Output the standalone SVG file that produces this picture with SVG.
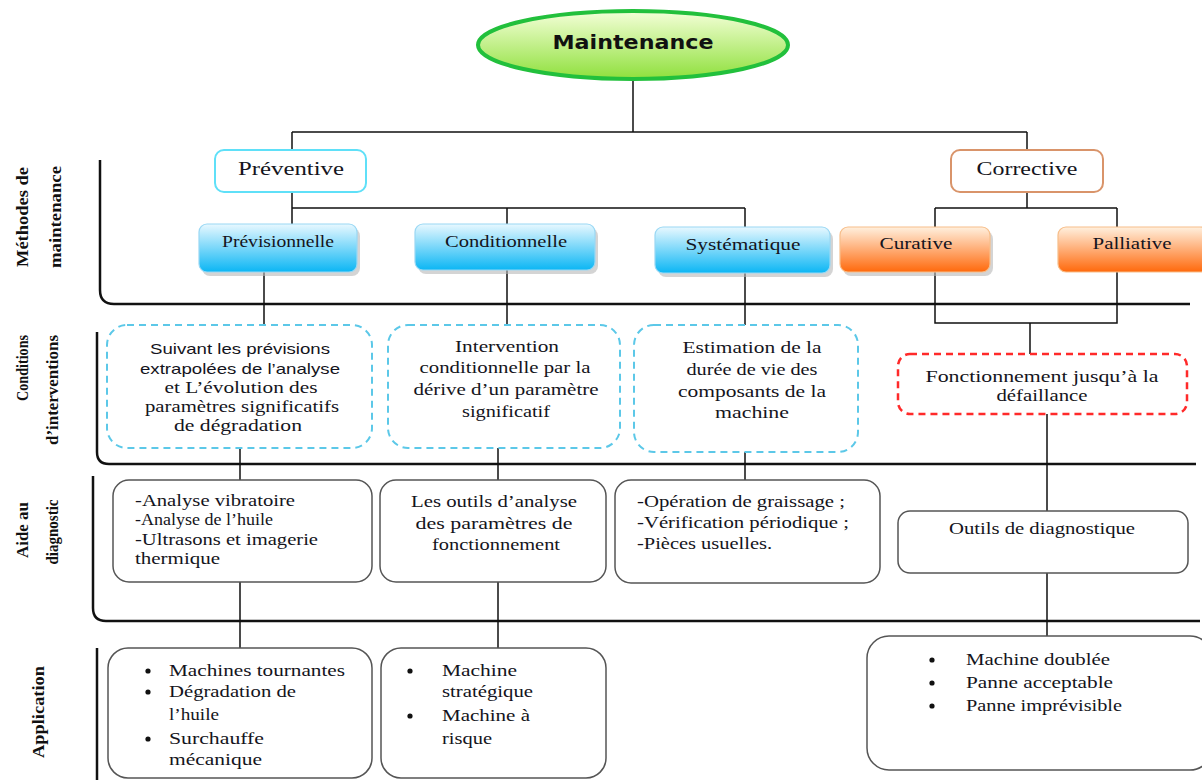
<svg xmlns="http://www.w3.org/2000/svg" width="1202" height="780" viewBox="0 0 1202 780">
<defs>
<linearGradient id="gEll" x1="0" y1="0" x2="0" y2="1"><stop offset="0" stop-color="#f4ffd8"/><stop offset="1" stop-color="#8fe03c"/></linearGradient>
<linearGradient id="gBlue" x1="0" y1="0" x2="0" y2="1"><stop offset="0" stop-color="#e8f8ff"/><stop offset="1" stop-color="#0bb6f4"/></linearGradient>
<linearGradient id="gOr" x1="0" y1="0" x2="0" y2="1"><stop offset="0" stop-color="#fff0de"/><stop offset="1" stop-color="#ff690c"/></linearGradient>
</defs>
<style>
.t{font-family:"Liberation Serif",serif;font-size:16px;fill:#141420}
.big{font-size:18px}
.c{text-anchor:middle}
.lbl{font-family:"Liberation Serif",serif;font-weight:bold;font-size:17px;fill:#111;text-anchor:middle}
.conn{fill:none;stroke:#111;stroke-width:1.5}
.br{fill:none;stroke:#111;stroke-width:2.5}
.dc{fill:#fff;stroke:#5cc8e8;stroke-width:2;stroke-dasharray:7 5}
.dr{fill:#fff;stroke:#ff2a2a;stroke-width:2.5;stroke-dasharray:7 5}
.sb{fill:#fff;stroke:#555;stroke-width:1.5}
.bl{fill:url(#gBlue);stroke:#9ad8f4;stroke-width:1.2}
.or{fill:url(#gOr);stroke:#f7be8a;stroke-width:1.2}
.sh{fill:#b8b8b8;opacity:0.6}
.dot{fill:#111}
</style>
<rect width="1202" height="780" fill="#fff"/>

<g id="brackets">
<path class="br" d="M100 160 V290 Q100 304 114 304 H1190"/>
<path class="br" d="M97 332 V452 Q97 464 109 464 H1196"/>
<path class="br" d="M93 476 V608 Q93 621 106 621 H1200"/>
<path class="br" d="M97 648 V780"/>
</g>

<g id="labels">
<text class="lbl" transform="translate(28,217) rotate(-90)" textLength="100" lengthAdjust="spacingAndGlyphs">Méthodes de</text>
<text class="lbl" transform="translate(61,217) rotate(-90)" textLength="102" lengthAdjust="spacingAndGlyphs">maintenance</text>
<text class="lbl" transform="translate(28,368) rotate(-90)" textLength="66" lengthAdjust="spacingAndGlyphs">Conditions</text>
<text class="lbl" transform="translate(58,390) rotate(-90)" textLength="110" lengthAdjust="spacingAndGlyphs">d’interventions</text>
<text class="lbl" transform="translate(28,530) rotate(-90)" textLength="56" lengthAdjust="spacingAndGlyphs">Aide au</text>
<text class="lbl" transform="translate(58,532) rotate(-90)" textLength="65" lengthAdjust="spacingAndGlyphs">diagnostic</text>
<text class="lbl" transform="translate(44,712) rotate(-90)" textLength="92" lengthAdjust="spacingAndGlyphs">Application</text>
</g>

<g id="connectors">
<path class="conn" d="M633 80 V132 M292 132 H1027 M292 132 V150 M1027 132 V150"/>
<path class="conn" d="M292 192 V224 M292 208 H745 M507 208 V224 M745 208 V227"/>
<path class="conn" d="M1027 192 V208 M935 208 H1117 M935 208 V227 M1117 208 V227"/>
<path class="conn" d="M264 272 V325 M507 270 V325 M745 273 V325"/>
<path class="conn" d="M935 272 V323 H1117 V272 M1030 323 V354"/>
<path class="conn" d="M240 448 V480 M498 448 V480 M745 452 V480 M1047 414 V511"/>
<path class="conn" d="M240 582 V648 M498 582 V648 M1047 573 V636"/>
</g>

<g id="maintenance">
<ellipse cx="633" cy="45" rx="155" ry="34" fill="url(#gEll)" stroke="#22c03c" stroke-width="4"/>
<text x="633" y="49" text-anchor="middle" font-family="'DejaVu Sans',sans-serif" font-weight="bold" font-size="19" fill="#111" textLength="161" lengthAdjust="spacingAndGlyphs">Maintenance</text>
</g>

<g id="preventive">
<rect x="215" y="150" width="151" height="42" rx="9" fill="#fff" stroke="#5fe0f8" stroke-width="2"/>
<text class="t c big" x="291" y="175" textLength="106" lengthAdjust="spacingAndGlyphs">Préventive</text>
</g>
<g id="corrective">
<rect x="951" y="150" width="152" height="42" rx="9" fill="#fff" stroke="#d9946a" stroke-width="2"/>
<text class="t c big" x="1027" y="175" textLength="101" lengthAdjust="spacingAndGlyphs">Corrective</text>
</g>

<g id="previsionnelle">
<rect class="sh" x="202" y="228" width="158" height="48" rx="8"/>
<rect class="bl" x="199" y="224" width="158" height="48" rx="8"/>
<text class="t c" x="278" y="247" textLength="112" lengthAdjust="spacingAndGlyphs">Prévisionnelle</text>
</g>
<g id="conditionnelle">
<rect class="sh" x="418" y="228" width="180" height="46" rx="8"/>
<rect class="bl" x="415" y="224" width="180" height="46" rx="8"/>
<text class="t c" x="506" y="247" textLength="122" lengthAdjust="spacingAndGlyphs">Conditionnelle</text>
</g>
<g id="systematique">
<rect class="sh" x="658" y="231" width="175" height="46" rx="8"/>
<rect class="bl" x="655" y="227" width="175" height="46" rx="8"/>
<text class="t c" x="743" y="250" textLength="115" lengthAdjust="spacingAndGlyphs">Systématique</text>
</g>
<g id="curative">
<rect class="sh" x="843" y="231" width="150" height="45" rx="8"/>
<rect class="or" x="840" y="227" width="150" height="45" rx="8"/>
<text class="t c" x="916" y="249" textLength="73" lengthAdjust="spacingAndGlyphs">Curative</text>
</g>
<g id="palliative">
<rect class="or" x="1058" y="227" width="150" height="45" rx="8"/>
<text class="t c" x="1132" y="249" textLength="79" lengthAdjust="spacingAndGlyphs">Palliative</text>
</g>

<g id="cond-previsionnelle">
<rect class="dc" x="107" y="325" width="265" height="123" rx="20"/>
<text class="c" x="240" y="354" font-family="'Liberation Sans',sans-serif" font-size="15" fill="#141420" textLength="180" lengthAdjust="spacingAndGlyphs">Suivant les prévisions</text>
<text class="c" x="240" y="374" font-family="'Liberation Sans',sans-serif" font-size="15" fill="#141420" textLength="200" lengthAdjust="spacingAndGlyphs">extrapolées de l’analyse</text>
<text class="t c" x="241" y="393" textLength="153" lengthAdjust="spacingAndGlyphs">et L’évolution des</text>
<text class="t c" x="242" y="412" textLength="194" lengthAdjust="spacingAndGlyphs">paramètres significatifs</text>
<text class="t c" x="238" y="431" textLength="128" lengthAdjust="spacingAndGlyphs">de dégradation</text>
</g>
<g id="cond-conditionnelle">
<rect class="dc" x="388" y="325" width="232" height="123" rx="20"/>
<text class="t c" x="507" y="352" textLength="104" lengthAdjust="spacingAndGlyphs">Intervention</text>
<text class="t c" x="505" y="373" textLength="171" lengthAdjust="spacingAndGlyphs">conditionnelle par la</text>
<text class="t c" x="506" y="395" textLength="185" lengthAdjust="spacingAndGlyphs">dérive d’un paramètre</text>
<text class="t c" x="506" y="417" textLength="88" lengthAdjust="spacingAndGlyphs">significatif</text>
</g>
<g id="cond-systematique">
<rect class="dc" x="634" y="325" width="224" height="127" rx="20"/>
<text class="t c" x="752" y="353" textLength="139" lengthAdjust="spacingAndGlyphs">Estimation  de la</text>
<text class="t c" x="752" y="375" textLength="131" lengthAdjust="spacingAndGlyphs">durée de vie des</text>
<text class="t c" x="752" y="397" textLength="148" lengthAdjust="spacingAndGlyphs">composants de la</text>
<text class="t c" x="752" y="418" textLength="74" lengthAdjust="spacingAndGlyphs">machine</text>
</g>
<g id="cond-corrective">
<rect class="dr" x="898" y="354" width="289" height="60" rx="12"/>
<text class="t c" x="1042" y="382" textLength="233" lengthAdjust="spacingAndGlyphs">Fonctionnement jusqu’à  la</text>
<text class="t c" x="1042" y="401" textLength="91" lengthAdjust="spacingAndGlyphs">défaillance</text>
</g>

<g id="aide-previsionnelle">
<rect class="sb" x="113" y="480" width="259" height="102" rx="16"/>
<text class="t" x="135" y="506" textLength="160" lengthAdjust="spacingAndGlyphs">-Analyse vibratoire</text>
<text class="t" x="135" y="525" textLength="138" lengthAdjust="spacingAndGlyphs">-Analyse de l’huile</text>
<text class="t" x="135" y="545" textLength="183" lengthAdjust="spacingAndGlyphs">-Ultrasons et imagerie</text>
<text class="t" x="135" y="564" textLength="85" lengthAdjust="spacingAndGlyphs">thermique</text>
</g>
<g id="aide-conditionnelle">
<rect class="sb" x="380" y="480" width="226" height="102" rx="16"/>
<text class="t c" x="494" y="507" textLength="166" lengthAdjust="spacingAndGlyphs">Les outils d’analyse</text>
<text class="t c" x="494" y="529" textLength="157" lengthAdjust="spacingAndGlyphs">des  paramètres de</text>
<text class="t c" x="496" y="550" textLength="128" lengthAdjust="spacingAndGlyphs">fonctionnement</text>
</g>
<g id="aide-systematique">
<rect class="sb" x="615" y="480" width="265" height="103" rx="16"/>
<text class="t" x="637" y="507" textLength="208" lengthAdjust="spacingAndGlyphs">-Opération de graissage ;</text>
<text class="t" x="637" y="528" textLength="212" lengthAdjust="spacingAndGlyphs">-Vérification périodique ;</text>
<text class="t" x="637" y="549" textLength="135" lengthAdjust="spacingAndGlyphs">-Pièces usuelles.</text>
</g>
<g id="aide-corrective">
<rect class="sb" x="898" y="511" width="290" height="62" rx="12"/>
<text class="t c" x="1042" y="534" textLength="186" lengthAdjust="spacingAndGlyphs">Outils de diagnostique</text>
</g>

<g id="app-previsionnelle">
<rect class="sb" x="108" y="648" width="264" height="130" rx="20"/>
<circle class="dot" cx="148" cy="671" r="2.6"/>
<circle class="dot" cx="148" cy="692" r="2.6"/>
<circle class="dot" cx="148" cy="739" r="2.6"/>
<text class="t" x="169" y="676" textLength="176" lengthAdjust="spacingAndGlyphs">Machines tournantes</text>
<text class="t" x="169" y="697" textLength="127" lengthAdjust="spacingAndGlyphs">Dégradation de</text>
<text class="t" x="169" y="720" textLength="50" lengthAdjust="spacingAndGlyphs">l’huile</text>
<text class="t" x="169" y="744" textLength="95" lengthAdjust="spacingAndGlyphs">Surchauffe</text>
<text class="t" x="169" y="765" textLength="93" lengthAdjust="spacingAndGlyphs">mécanique</text>
</g>
<g id="app-conditionnelle">
<rect class="sb" x="381" y="648" width="225" height="130" rx="20"/>
<circle class="dot" cx="410" cy="671" r="2.6"/>
<circle class="dot" cx="410" cy="716" r="2.6"/>
<text class="t" x="442" y="676" textLength="75" lengthAdjust="spacingAndGlyphs">Machine</text>
<text class="t" x="442" y="697" textLength="91" lengthAdjust="spacingAndGlyphs">stratégique</text>
<text class="t" x="442" y="721" textLength="88" lengthAdjust="spacingAndGlyphs">Machine à</text>
<text class="t" x="442" y="744" textLength="50" lengthAdjust="spacingAndGlyphs">risque</text>
</g>
<g id="app-corrective">
<rect class="sb" x="867" y="636" width="345" height="134" rx="22"/>
<circle class="dot" cx="932" cy="660" r="2.6"/>
<circle class="dot" cx="932" cy="683" r="2.6"/>
<circle class="dot" cx="932" cy="706" r="2.6"/>
<text class="t" x="966" y="665" textLength="144" lengthAdjust="spacingAndGlyphs">Machine doublée</text>
<text class="t" x="966" y="688" textLength="147" lengthAdjust="spacingAndGlyphs">Panne acceptable</text>
<text class="t" x="966" y="711" textLength="156" lengthAdjust="spacingAndGlyphs">Panne imprévisible</text>
</g>
</svg>
